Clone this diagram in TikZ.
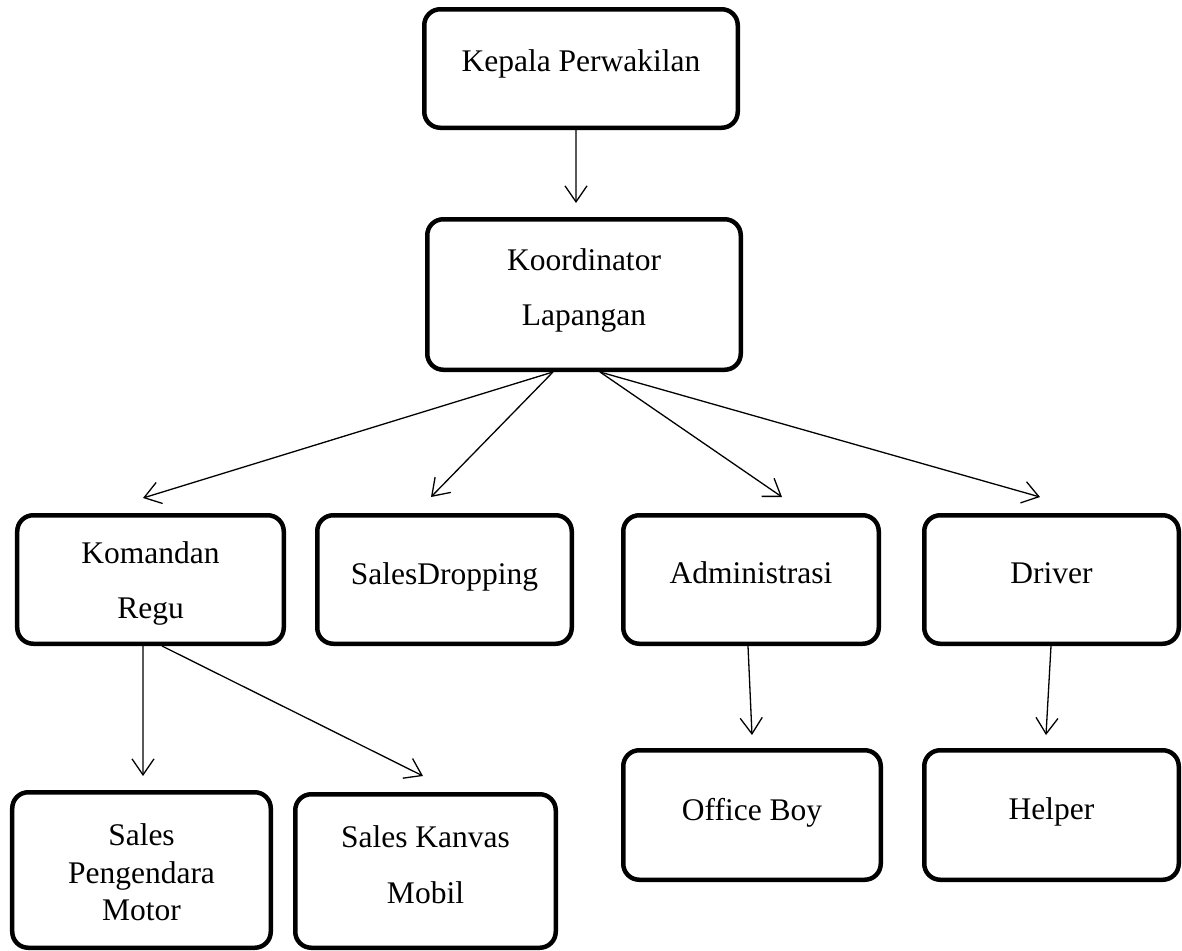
\documentclass[tikz,border=0pt]{standalone}
\usepackage{fontspec}
\setmainfont{Liberation Serif}
\usetikzlibrary{arrows.meta}
\begin{document}
\begin{tikzpicture}[x=1bp,y=-1bp,
  box/.style={draw=black, line width=4.5bp, rounded corners=16bp, inner sep=0pt},
  txt/.style={font=\fontsize{31.5bp}{36bp}\selectfont, inner sep=0pt, anchor=base},
  arr/.style={line width=1.3bp, -{Straight Barb[length=16bp,width=22bp]}}]
\useasboundingbox (0,0) rectangle (1182,951);
% boxes
\node[box, minimum width=313.5bp, minimum height=118.5bp] (kepala) at (581,68.5) {};
\node[box, minimum width=313.5bp, minimum height=150.5bp] (koord) at (584,294.5) {};
\node[box, minimum width=266.5bp, minimum height=128.5bp] (komandan) at (150.5,579.5) {};
\node[box, minimum width=254.5bp, minimum height=128.5bp] (salesdrop) at (444.5,579.5) {};
\node[box, minimum width=255.5bp, minimum height=128.5bp] (admin) at (751,579.5) {};
\node[box, minimum width=254.5bp, minimum height=128.5bp] (driver) at (1051.5,579.5) {};
\node[box, minimum width=258.5bp, minimum height=155.5bp] (pengendara) at (141.5,870) {};
\node[box, minimum width=260.5bp, minimum height=153.5bp] (kanvas) at (425.5,871) {};
\node[box, minimum width=257.5bp, minimum height=129.5bp] (officeboy) at (752,815) {};
\node[box, minimum width=254.5bp, minimum height=129.5bp] (helper) at (1051.5,815) {};
% texts
\node[txt] (kepala-t) at (581,71) {Kepala Perwakilan};
\node[txt] (koord-t1) at (584,270) {Koordinator};
\node[txt] (koord-t2) at (584,325) {Lapangan};
\node[txt] (komandan-t1) at (150.5,563) {Komandan};
\node[txt] (komandan-t2) at (150.5,618) {Regu};
\node[txt] (salesdrop-t) at (444.5,584) {SalesDropping};
\node[txt] (admin-t) at (751,583) {Administrasi};
\node[txt] (driver-t) at (1051.5,583) {Driver};
\node[txt] (pengendara-t1) at (141.5,845) {Sales};
\node[txt] (pengendara-t2) at (141.5,883) {Pengendara};
\node[txt] (pengendara-t3) at (141.5,920) {Motor};
\node[txt] (kanvas-t1) at (425.5,847) {Sales Kanvas};
\node[txt] (kanvas-t2) at (425.5,903) {Mobil};
\node[txt] (officeboy-t) at (752,820) {Office Boy};
\node[txt] (helper-t) at (1051.5,819) {Helper};
% connectors
\draw[arr] ([xshift=-5bp]kepala.south) -- ([xshift=-8bp,yshift=14bp]koord.north);
\draw[arr] ([xshift=-31bp]koord.south) -- ([xshift=-7.5bp,yshift=15bp]komandan.north);
\draw[arr] ([xshift=-31bp]koord.south) -- ([xshift=-13.5bp,yshift=16bp]salesdrop.north);
\draw[arr] ([xshift=16bp]koord.south) -- ([xshift=31bp,yshift=16bp]admin.north);
\draw[arr] ([xshift=16bp]koord.south) -- ([xshift=-11.5bp,yshift=16bp]driver.north);
\draw[arr] ([xshift=-7.5bp]komandan.south) -- ([xshift=1.5bp,yshift=14bp]pengendara.north);
\draw[arr] ([xshift=11.5bp]komandan.south) -- ([xshift=-2.5bp,yshift=16bp]kanvas.north);
\draw[arr] ([xshift=-3bp]admin.south) -- ([yshift=13bp]officeboy.north);
\draw[arr] ([xshift=-0.5bp]driver.south) -- ([xshift=-5.5bp,yshift=13bp]helper.north);
\end{tikzpicture}
\end{document}
